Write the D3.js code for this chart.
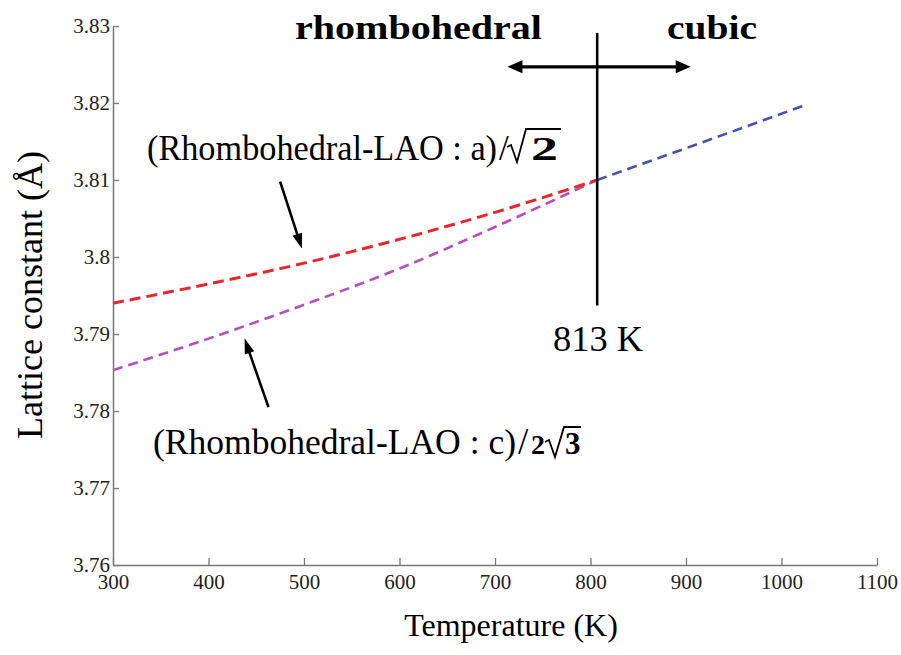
<!DOCTYPE html>
<html lang="en">
<head>
<meta charset="utf-8">
<title>Lattice constant</title>
<script src="https://cdnjs.cloudflare.com/ajax/libs/d3/7.8.5/d3.min.js"></script>
<style>
  body { margin: 0; background: #fff; }
  svg { display: block; font-family: "Liberation Serif", "Times New Roman", serif; }
</style>
</head>
<body>
<div id="chart"></div>
<script>
// values
const tempA = [300, 400, 500, 600, 700, 807];
const latA = [3.7940, 3.7965, 3.7992, 3.8023, 3.8058, 3.8100];   // (a)/sqrt2
const tempC = [300, 400, 500, 600, 700, 807];
const latC = [3.7853, 3.7894, 3.7938, 3.7985, 3.8039, 3.8100];   // (c)/2sqrt3
const tempCubic = [807, 915, 1022];
const latCubic = [3.8100, 3.8148, 3.8196];
const xTicks = [300, 400, 500, 600, 700, 800, 900, 1000, 1100];
const yTicks = [3.76, 3.77, 3.78, 3.79, 3.80, 3.81, 3.82, 3.83];
const transitionT = 807;

const width = 901;
const height = 655;

const svg = d3.select("#chart")
    .append("svg")
    .attr("width", width)
    .attr("height", height);

const x = d3.scaleLinear().domain([300, 1100]).range([113, 877]);
const y = d3.scaleLinear().domain([3.76, 3.83]).range([565, 26]);

// axes (only left + bottom, ticks inward)
const xAxis = d3.axisBottom(x)
    .tickValues(xTicks)
    .tickSizeInner(-7)
    .tickSizeOuter(0)
    .tickPadding(9)
    .tickFormat(d3.format("d"));

const yAxis = d3.axisLeft(y)
    .tickValues(yTicks)
    .tickSizeInner(-6)
    .tickSizeOuter(0)
    .tickPadding(3)
    .tickFormat(d => d3.format(".2f")(d).replace(/0$/, ""));

const gx = svg.append("g").attr("transform", "translate(0,565)").call(xAxis);
const gy = svg.append("g").attr("transform", "translate(113,0)").call(yAxis);

[gx, gy].forEach(g => {
    g.select(".domain").attr("stroke", "#777").attr("stroke-width", 1.5);
    g.selectAll(".tick line").attr("stroke", "#777").attr("stroke-width", 1.3);
    g.selectAll(".tick text")
        .attr("fill", "#222")
        .style("font-family", "Liberation Serif, serif")
        .style("font-size", "21px");
});

// axis titles
svg.append("text")
    .attr("x", 511).attr("y", 636)
    .attr("text-anchor", "middle")
    .style("font-size", "32px")
    .text("Temperature (K)");

svg.append("text")
    .attr("transform", "translate(42,295) rotate(-90)")
    .attr("text-anchor", "middle")
    .style("font-size", "36px")
    .text("Lattice constant (Å)");

// curves
const line = d3.line()
    .x(d => x(d[0]))
    .y(d => y(d[1]))
    .curve(d3.curveMonotoneX);

svg.append("path")
    .datum(d3.zip(tempC, latC))
    .attr("d", line)
    .attr("fill", "none")
    .attr("stroke", "#b94cbf")
    .attr("stroke-width", 2.6)
    .attr("stroke-dasharray", "10,6");

svg.append("path")
    .datum(d3.zip(tempA, latA))
    .attr("d", line)
    .attr("fill", "none")
    .attr("stroke", "#e8262b")
    .attr("stroke-width", 3)
    .attr("stroke-dasharray", "11,6");

svg.append("path")
    .datum(d3.zip(tempCubic, latCubic))
    .attr("d", line)
    .attr("fill", "none")
    .attr("stroke", "#4352b3")
    .attr("stroke-width", 2.6)
    .attr("stroke-dasharray", "10,6");

// arrow helper: shaft + filled head at (x2,y2)
function arrow(x1, y1, x2, y2, len, half, w) {
    const dx = x2 - x1, dy = y2 - y1;
    const L = Math.hypot(dx, dy);
    const ux = dx / L, uy = dy / L;
    const bx = x2 - ux * len, by = y2 - uy * len;
    svg.append("line")
        .attr("x1", x1).attr("y1", y1)
        .attr("x2", bx + ux * 2).attr("y2", by + uy * 2)
        .attr("stroke", "#000").attr("stroke-width", w);
    svg.append("path")
        .attr("d", `M${x2},${y2}L${bx - uy * half},${by + ux * half}L${bx + uy * half},${by - ux * half}Z`)
        .attr("fill", "#000");
}

// phase transition line and region arrow
svg.append("line")
    .attr("x1", x(transitionT)).attr("x2", x(transitionT))
    .attr("y1", y(3.8291)).attr("y2", y(3.7937))
    .attr("stroke", "#000").attr("stroke-width", 2.6);

const ay = y(3.8247);
arrow(x(transitionT), ay, x(713), ay, 15, 6.5, 3.2);
arrow(x(transitionT), ay, x(905), ay, 15, 6.5, 3.2);

// pointer arrows
arrow(x(475), y(3.8098), x(497.8), y(3.8011), 15, 5, 2.6);
arrow(x(462.8), y(3.7805), x(437.8), y(3.7894), 15, 5, 2.6);

// region labels
svg.append("text")
    .attr("x", 295).attr("y", 38.5)
    .attr("textLength", 247).attr("lengthAdjust", "spacingAndGlyphs")
    .style("font-size", "33px").style("font-weight", "bold")
    .text("rhombohedral");

svg.append("text")
    .attr("x", 667).attr("y", 38.5)
    .attr("textLength", 90).attr("lengthAdjust", "spacingAndGlyphs")
    .style("font-size", "33px").style("font-weight", "bold")
    .text("cubic");

svg.append("text")
    .attr("x", 553).attr("y", 350.5)
    .attr("textLength", 90).attr("lengthAdjust", "spacingAndGlyphs")
    .style("font-size", "36px")
    .text("813 K");

// helper for radical sign + bar
function radical(x0, yb, x1, top) {
    svg.append("path")
        .attr("d", `M${x0},${yb - 13}L${x0 + 4},${yb - 15}L${x0 + 10},${yb + 2}L${x0 + 19},${top}H${x1}`)
        .attr("fill", "none")
        .attr("stroke", "#000")
        .attr("stroke-width", 1.8)
        .attr("stroke-linejoin", "miter");
}

// label a / sqrt2
svg.append("text")
    .attr("x", 147).attr("y", 159.5)
    .attr("textLength", 350).attr("lengthAdjust", "spacingAndGlyphs")
    .style("font-size", "35px")
    .text("(Rhombohedral-LAO : a)");
svg.append("text")
    .attr("x", 499).attr("y", 159.5)
    .style("font-size", "35px")
    .text("/");
radical(507, 160, 561, 129);
svg.append("text")
    .attr("x", 531).attr("y", 159.5)
    .attr("textLength", 27).attr("lengthAdjust", "spacingAndGlyphs")
    .style("font-size", "34px").style("font-weight", "bold")
    .text("2");

// label c / 2sqrt3
svg.append("text")
    .attr("x", 153).attr("y", 453.5)
    .attr("textLength", 363).attr("lengthAdjust", "spacingAndGlyphs")
    .style("font-size", "35px")
    .text("(Rhombohedral-LAO : c)");
svg.append("text")
    .attr("x", 518).attr("y", 453.5)
    .style("font-size", "37px")
    .text("/");
svg.append("text")
    .attr("x", 531).attr("y", 454)
    .style("font-size", "28px").style("font-weight", "bold")
    .text("2");
radical(545, 455, 581, 427);
svg.append("text")
    .attr("x", 565).attr("y", 453.5)
    .style("font-size", "31px").style("font-weight", "bold")
    .text("3");
</script>
</body>
</html>
